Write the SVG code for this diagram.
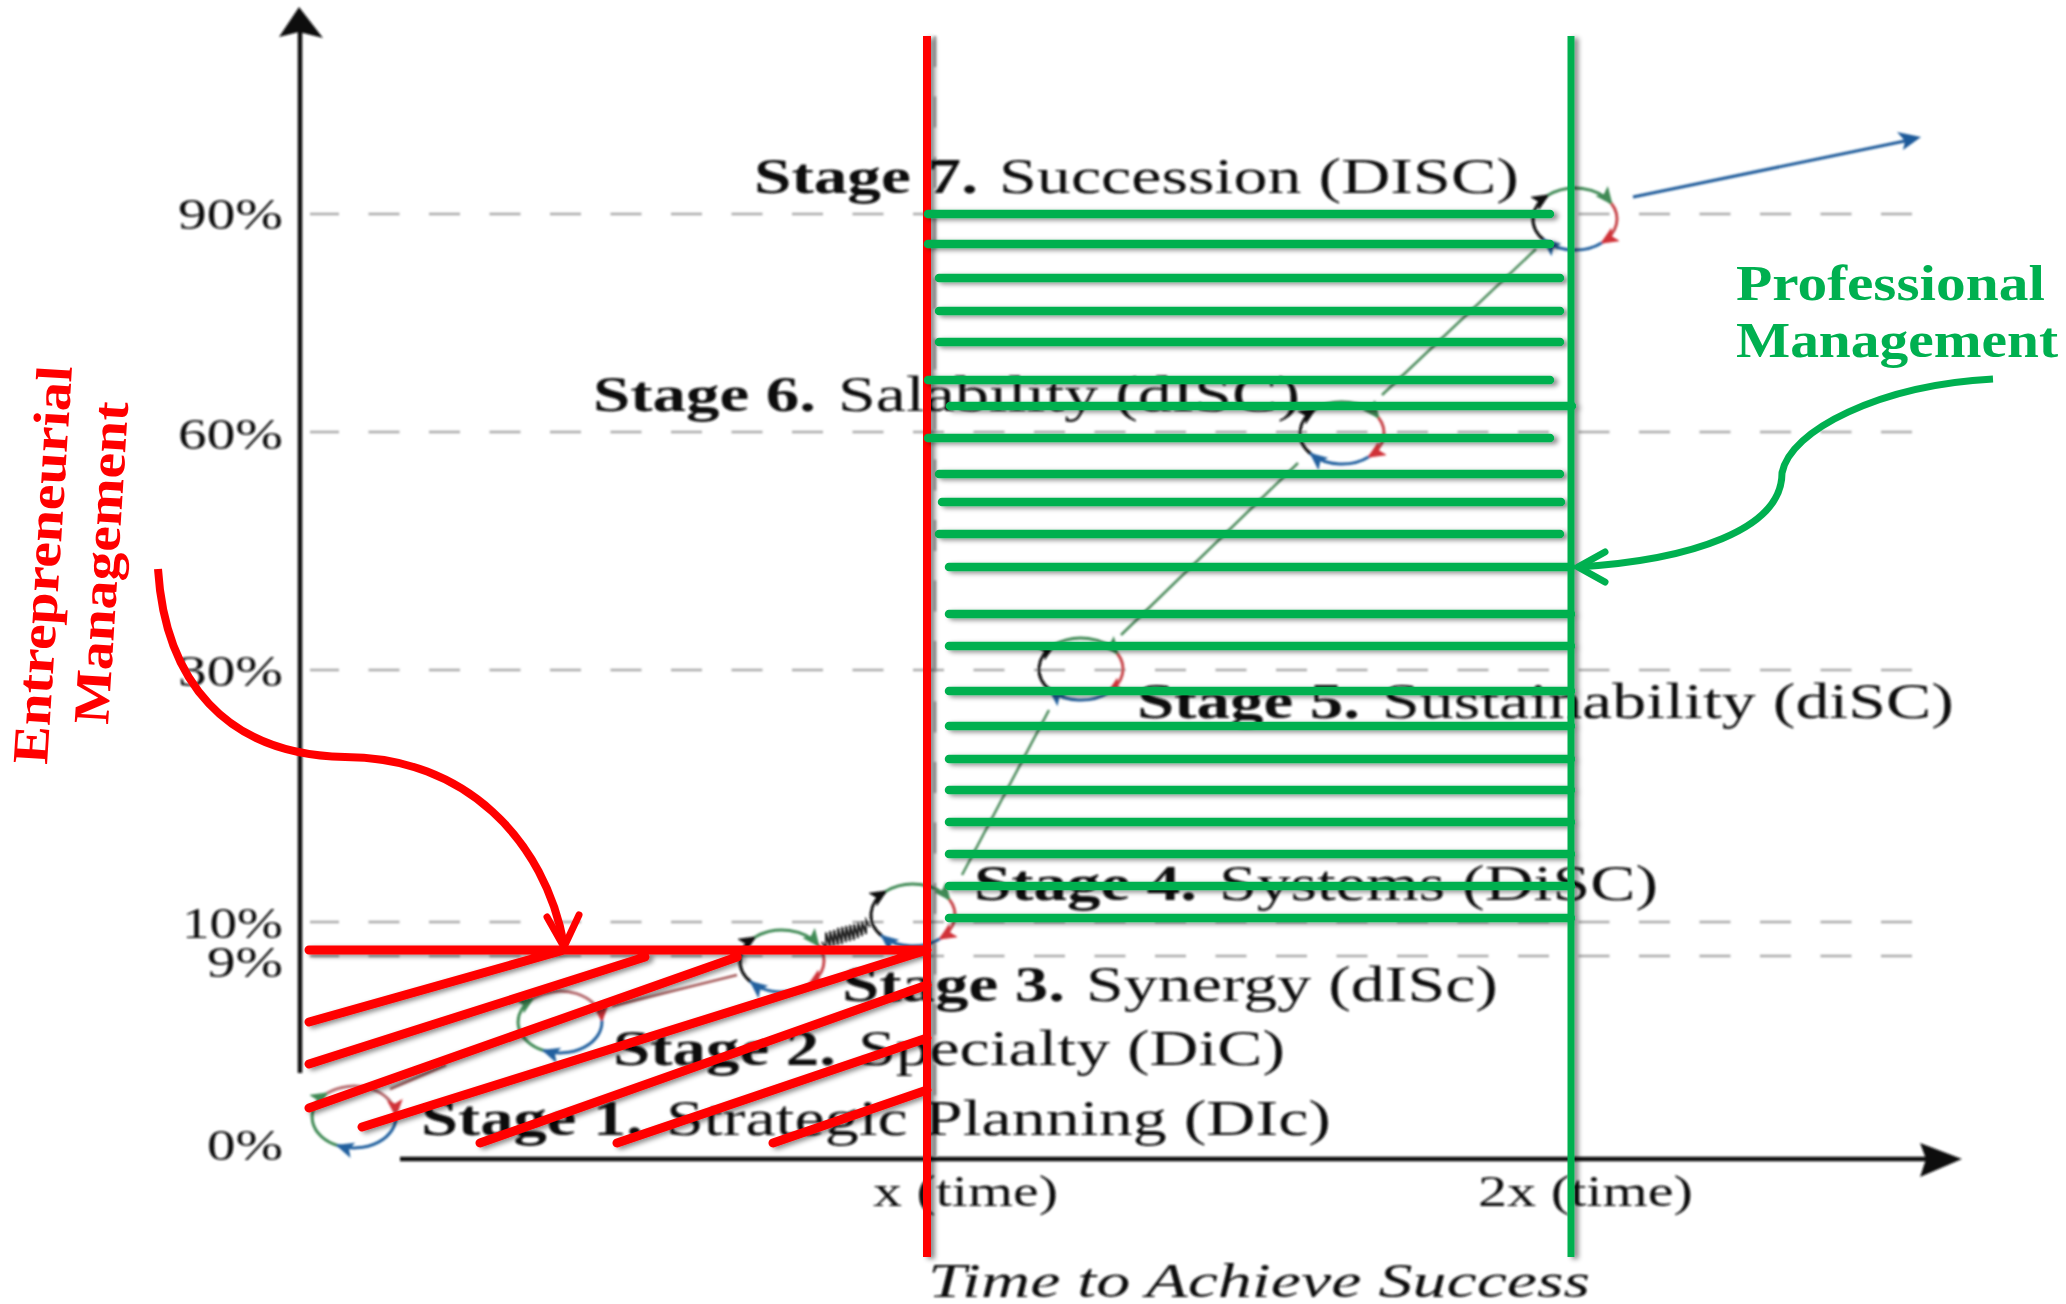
<svg xmlns="http://www.w3.org/2000/svg" xmlns:xlink="http://www.w3.org/1999/xlink" width="2066" height="1304" viewBox="0 0 2066 1304">
<style>
text{font-family:"Liberation Serif","Times New Roman",serif;fill:#111}
.b{font-weight:bold;font-size:50px}
.r{font-size:50px}
.p{font-size:44px}
.t{font-size:44px}
.i{font-style:italic;font-size:48px}
.gl{fill:#00B050;font-weight:bold;font-size:50px}
.rl{fill:#FF0000;font-weight:bold;font-size:51px}
.dash{stroke:#aaa;stroke-width:2.5;stroke-dasharray:31 29.5;fill:none}
.red{stroke:#FF0000;stroke-width:9;stroke-linecap:round;fill:none}
.grn{stroke:#00B050;stroke-width:8.5;stroke-linecap:round;fill:none}
.arc{fill:none;stroke-width:3}
.k{stroke:#111}.g{stroke:#3f8a55}.e{stroke:#c8474c}.u{stroke:#22609f}.d{stroke:#b56a6e}
</style>
<defs>
<filter id="soft" filterUnits="userSpaceOnUse" x="0" y="0" width="2066" height="1304"><feGaussianBlur stdDeviation="0.8"/></filter>
<filter id="shadow" filterUnits="userSpaceOnUse" x="0" y="0" width="2066" height="1304"><feDropShadow dx="4" dy="2" stdDeviation="2.5" flood-color="#000" flood-opacity="0.45"/></filter>
<marker id="mk" markerUnits="userSpaceOnUse" markerWidth="19" markerHeight="16" refX="16" refY="8" orient="auto"><path d="M0 0L18 8L0 16L4 8Z" fill="#111"/></marker>
<marker id="mg" markerUnits="userSpaceOnUse" markerWidth="19" markerHeight="16" refX="16" refY="8" orient="auto"><path d="M0 0L18 8L0 16L4 8Z" fill="#3f8a55"/></marker>
<marker id="me" markerUnits="userSpaceOnUse" markerWidth="19" markerHeight="16" refX="16" refY="8" orient="auto"><path d="M0 0L18 8L0 16L4 8Z" fill="#d03038"/></marker>
<marker id="mu" markerUnits="userSpaceOnUse" markerWidth="19" markerHeight="16" refX="16" refY="8" orient="auto"><path d="M0 0L18 8L0 16L4 8Z" fill="#22609f"/></marker>
<g id="loopA">
<path class="arc k" d="M-31 21A42 31 0 0 1 -27 -23.7" marker-end="url(#mk)"/>
<path class="arc g" d="M-27 -23.7A42 31 0 0 1 36.4 -15.5" marker-end="url(#mg)"/>
<path class="arc e" d="M36.4 -15.5A42 31 0 0 1 27 23.7" marker-end="url(#me)"/>
<path class="arc u" d="M27 23.7A42 31 0 0 1 -31 21" marker-end="url(#mu)"/>
</g>
<g id="loopB">
<path class="arc g" d="M-16.4 28.5A42 31 0 0 1 -27 -23.7" marker-end="url(#mg)"/>
<path class="arc d" d="M-27 -23.7A42 31 0 0 1 41.9 -1.6" marker-end="url(#me)"/>
<path class="arc u" d="M41.9 -1.6A42 31 0 0 1 -16.4 28.5" marker-end="url(#mu)"/>
</g>
</defs>
<rect width="2066" height="1304" fill="#fff"/>
<g id="base" filter="url(#soft)">
<g id="gridlines">
<path class="dash" d="M1912 214H310M1912 432H310M1912 670H310M1912 922H310M1912 956H310"/>
<path class="dash" d="M935 36V1170"/>
</g>
<g id="axes">
<path d="M300 30V1073" stroke="#111" stroke-width="4.5" fill="none"/>
<polygon points="299,7 323,38 299,32 279,37" fill="#111"/>
<path d="M400 1159H1935" stroke="#111" stroke-width="4.5" fill="none"/>
<polygon points="1962,1159 1920,1143 1926,1159 1920,1177" fill="#111"/>
</g>
<g id="trend-connectors">
<path d="M390 1089L446 1065" stroke="#a65a5a" stroke-width="2.5" fill="none"/>
<path d="M612 1006L737 975" stroke="#a65a5a" stroke-width="2.5" fill="none"/>
<polyline points="822,942 826,949 826,932.5 830,947 830,931 834,946 834,930 838,945 838,928 842,944 842,927 846,942 846,926 850,941 850,925 854,940 854,924 858,938 858,922.5 862,936 862,921.5 866,934 866,920 870,927" fill="none" stroke="#111" stroke-width="1.8"/>
<path d="M962 875L1049 710" stroke="#4a8a5a" stroke-width="2.5" fill="none"/>
<path d="M1121 635L1298 463" stroke="#4a8a5a" stroke-width="2.5" fill="none"/>
<path d="M1382 395L1536 249" stroke="#4a8a5a" stroke-width="2.5" fill="none"/>
<path d="M1633 197L1905 141" stroke="#1f5a9a" stroke-width="3" fill="none"/>
<polygon points="1921,137 1903,150 1905,141 1897,132" fill="#1f5a9a"/>
</g>
<use id="loop1" href="#loopB" xlink:href="#loopB" transform="translate(354 1117)"/>
<use id="loop2" href="#loopB" xlink:href="#loopB" transform="translate(560 1022)"/>
<use id="loop3" href="#loopA" xlink:href="#loopA" transform="translate(782 961)"/>
<use id="loop4" href="#loopA" xlink:href="#loopA" transform="translate(913 915)"/>
<use id="loop5" href="#loopA" xlink:href="#loopA" transform="translate(1081 669)"/>
<use id="loop6" href="#loopA" xlink:href="#loopA" transform="translate(1342 433)"/>
<use id="loop7" href="#loopA" xlink:href="#loopA" transform="translate(1575 219)"/>
<g id="axis-labels">
<text class="p" x="178" y="229" textLength="105" lengthAdjust="spacingAndGlyphs">90%</text>
<text class="p" x="178" y="449" textLength="105" lengthAdjust="spacingAndGlyphs">60%</text>
<text class="p" x="178" y="686" textLength="105" lengthAdjust="spacingAndGlyphs">30%</text>
<text class="p" x="182" y="938" textLength="101" lengthAdjust="spacingAndGlyphs">10%</text>
<text class="p" x="207" y="977" textLength="76" lengthAdjust="spacingAndGlyphs">9%</text>
<text class="p" x="207" y="1160" textLength="76" lengthAdjust="spacingAndGlyphs">0%</text>
<text class="t" x="873" y="1206" textLength="185" lengthAdjust="spacingAndGlyphs">x (time)</text>
<text class="t" x="1478" y="1206" textLength="215" lengthAdjust="spacingAndGlyphs">2x (time)</text>
<text class="i" x="928" y="1297" textLength="662" lengthAdjust="spacingAndGlyphs">Time to Achieve Success</text>
</g>
<g id="stage7"><text class="b" x="754" y="193" textLength="224" lengthAdjust="spacingAndGlyphs">Stage 7.</text><text class="r" x="999" y="193" textLength="520" lengthAdjust="spacingAndGlyphs">Succession (DISC)</text></g>
<g id="stage6"><text class="b" x="593" y="411" textLength="223" lengthAdjust="spacingAndGlyphs">Stage 6.</text><text class="r" x="838" y="411" textLength="462" lengthAdjust="spacingAndGlyphs">Salability (dISC)</text></g>
<g id="stage5"><text class="b" x="1137" y="718" textLength="223" lengthAdjust="spacingAndGlyphs">Stage 5.</text><text class="r" x="1382" y="718" textLength="572" lengthAdjust="spacingAndGlyphs">Sustainability (diSC)</text></g>
<g id="stage4"><text class="b" x="974" y="900" textLength="223" lengthAdjust="spacingAndGlyphs">Stage 4.</text><text class="r" x="1219" y="900" textLength="439" lengthAdjust="spacingAndGlyphs">Systems (DiSC)</text></g>
<g id="stage3"><text class="b" x="842" y="1001" textLength="223" lengthAdjust="spacingAndGlyphs">Stage 3.</text><text class="r" x="1086" y="1001" textLength="412" lengthAdjust="spacingAndGlyphs">Synergy (dISc)</text></g>
<g id="stage2"><text class="b" x="613" y="1065" textLength="223" lengthAdjust="spacingAndGlyphs">Stage 2.</text><text class="r" x="858" y="1065" textLength="427" lengthAdjust="spacingAndGlyphs">Specialty (DiC)</text></g>
<g id="stage1"><text class="b" x="421" y="1135" textLength="222" lengthAdjust="spacingAndGlyphs">Stage 1.</text><text class="r" x="666" y="1135" textLength="665" lengthAdjust="spacingAndGlyphs">Strategic Planning (DIc)</text></g>
</g>
<g id="red-hatch" filter="url(#shadow)">
<path class="red" style="stroke-linecap:butt;stroke-width:8" d="M927 36V1257"/>
<path class="red" d="M309 950H927M309 1022L564 950M309 1064L645 957M309 1108L737 957M362 1127L927 950M480 1143L927 985M617 1143L927 1038M773 1143L927 1090"/>
</g>
<g id="green-hatch" filter="url(#shadow)">
<path class="grn" d="M928 214H1550M928 244H1550M939 278H1560M939 311H1560M939 342H1560M928 380H1550M950 406H1572M928 438H1550M939 474H1560M942 502H1561M939 534H1560M949 567H1571M949 614H1571M949 646H1571M949 691H1571M949 726H1571M949 759H1571M949 790H1571M949 822H1571M949 854H1571M949 886H1571M949 918H1571"/>
<path class="grn" style="stroke-linecap:butt;stroke-width:7" d="M1571 36V1257"/>
</g>
<g id="connectors">
<path d="M158 569C165 680 225 755 345 757C465 757 545 840 564 945" fill="none" stroke="#FF0000" stroke-width="8"/>
<path d="M547 917L564 947L579 915" fill="none" stroke="#FF0000" stroke-width="7" stroke-linecap="round" stroke-linejoin="round"/>
<path d="M1993 379C1880 385 1790 430 1782 473C1782 530 1690 560 1578 567" fill="none" stroke="#00B050" stroke-width="7"/>
<path d="M1605 552L1578 567L1605 582" fill="none" stroke="#00B050" stroke-width="7" stroke-linecap="round" stroke-linejoin="round"/>
</g>
<g id="label-professional">
<text class="gl" x="1736" y="300" textLength="309" lengthAdjust="spacingAndGlyphs">Professional</text>
<text class="gl" x="1736" y="357" textLength="322" lengthAdjust="spacingAndGlyphs">Management</text>
</g>
<g id="label-entrepreneurial">
<text class="rl" transform="translate(47 765) rotate(-86.4)" textLength="399" lengthAdjust="spacingAndGlyphs">Entrepreneurial</text>
<text class="rl" transform="translate(108 725) rotate(-86.4)" textLength="323" lengthAdjust="spacingAndGlyphs">Management</text>
</g>
</svg>
